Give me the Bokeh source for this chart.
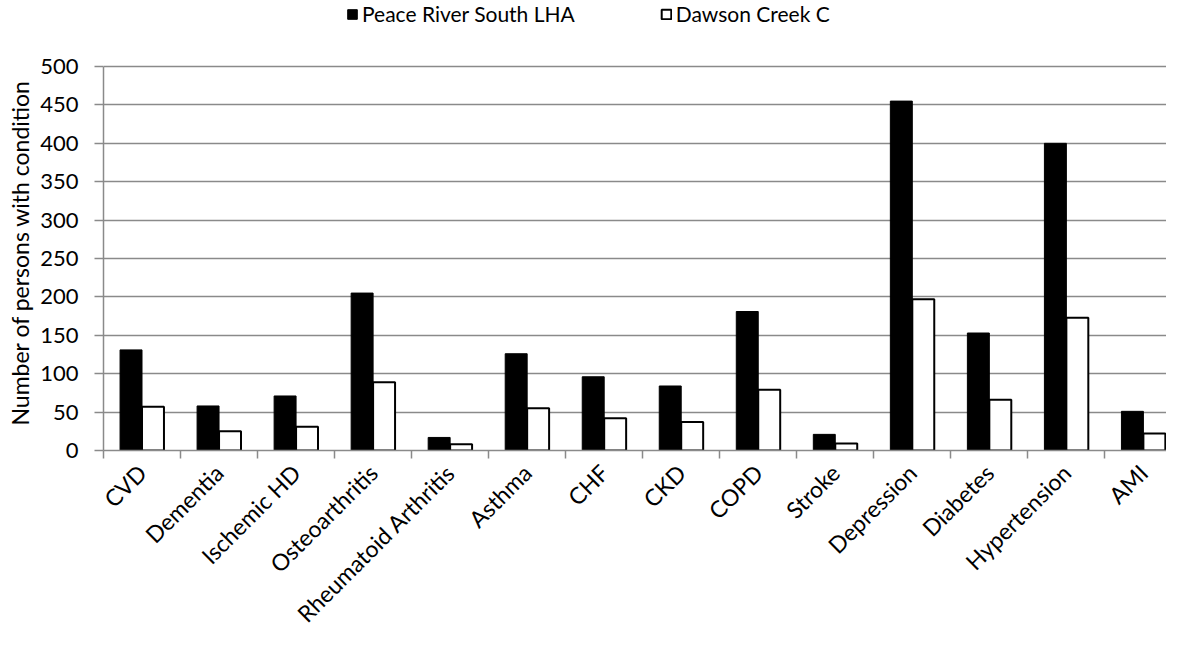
import math
from bokeh.plotting import figure
from bokeh.models import (ColumnDataSource, Range1d, FixedTicker, Legend, LegendItem, Title)
from bokeh.embed import file_html
from bokeh.resources import INLINE

categories = ["CVD", "Dementia", "Ischemic HD", "Osteoarthritis", "Rheumatoid Arthritis",
              "Asthma", "CHF", "CKD", "COPD", "Stroke", "Depression", "Diabetes",
              "Hypertension", "AMI"]
peace_river = [131, 58, 71, 205, 17, 126, 96, 84, 181, 21, 455, 153, 400, 51]
dawson_creek = [57, 25, 31, 89, 8, 55, 42, 37, 79, 9, 197, 66, 173, 22]
series_names = ["Peace River South LHA", "Dawson Creek C"]
y_title = "Number of persons with condition"
y_ticks = [0, 50, 100, 150, 200, 250, 300, 350, 400, 450, 500]

FONT = "Lato"
GRID = "#8a8a8a"

centers = [i + 0.5 for i in range(len(categories))]
bounds = [float(i) for i in range(len(categories) + 1)]
bw = 0.285

src = ColumnDataSource(dict(
    x1=[c - bw / 2 for c in centers],
    x2=[c + bw / 2 for c in centers],
    a=peace_river,
    b=dawson_creek,
))

# frame: top at page y 8, 500-line at y ~75, 0-line at y ~461
p = figure(width=1166, height=640, output_backend="svg", toolbar_location=None,
           x_range=Range1d(0, 13.8), y_range=Range1d(0, 586),
           min_border_left=99, min_border_right=0, min_border_top=0,
           min_border_bottom=187)
p.outline_line_color = None
p.background_fill_color = "white"
p.border_fill_color = "white"

r1 = p.vbar(x="x1", top="a", width=bw, bottom=0, source=src,
            fill_color="black", line_color="black", line_width=1)
r2 = p.vbar(x="x2", top="b", width=bw, bottom=0, source=src,
            fill_color="white", line_color="black", line_width=2)

# x axis
xa = p.xaxis[0]
xa.ticker = FixedTicker(ticks=centers, minor_ticks=bounds)
xa.major_label_overrides = {c: n for c, n in zip(centers, categories)}
xa.major_label_orientation = math.pi / 4
xa.major_tick_line_color = None
xa.major_tick_out = 0
xa.major_tick_in = 0
xa.minor_tick_line_color = GRID
xa.minor_tick_line_width = 1.5
xa.minor_tick_out = 8
xa.minor_tick_in = 0
xa.axis_line_color = GRID
xa.axis_line_width = 1.5
xa.major_label_text_font = FONT
xa.major_label_text_font_size = "23px"
xa.major_label_text_color = "black"
xa.major_label_standoff = 10

# y axis
ya = p.yaxis[0]
ya.ticker = FixedTicker(ticks=y_ticks)
ya.bounds = (0, 500)
ya.minor_tick_line_color = None
ya.major_tick_line_color = GRID
ya.major_tick_line_width = 1.5
ya.major_tick_out = 9
ya.major_tick_in = 0
ya.axis_line_color = GRID
ya.axis_line_width = 1.5
ya.major_label_text_font = FONT
ya.major_label_text_font_size = "22px"
ya.major_label_text_color = "black"
ya.major_label_standoff = 16

# y-axis title, roughly centred on the 0-500 part of the axis
yt = Title(text=y_title, align="left", offset=25, standoff=7,
           text_font=FONT, text_font_size="23px", text_font_style="normal",
           text_color="black")
p.add_layout(yt, "left")

p.xgrid.grid_line_color = None
p.ygrid.ticker = FixedTicker(ticks=y_ticks)
p.ygrid.grid_line_color = GRID
p.ygrid.grid_line_width = 1.5

legend = Legend(items=[LegendItem(label=series_names[0], renderers=[r1]),
                       LegendItem(label=series_names[1], renderers=[r2])],
                orientation="horizontal", location=(243, 424))
legend.label_text_font = FONT
legend.label_text_font_size = "21px"
legend.label_text_color = "black"
legend.glyph_width = 12
legend.glyph_height = 12
legend.label_standoff = 4
legend.spacing = 85
legend.border_line_color = None
legend.background_fill_alpha = 0
legend.padding = 0
legend.margin = 0
p.add_layout(legend, "center")

open("out.html", "w").write(file_html(p, INLINE))
